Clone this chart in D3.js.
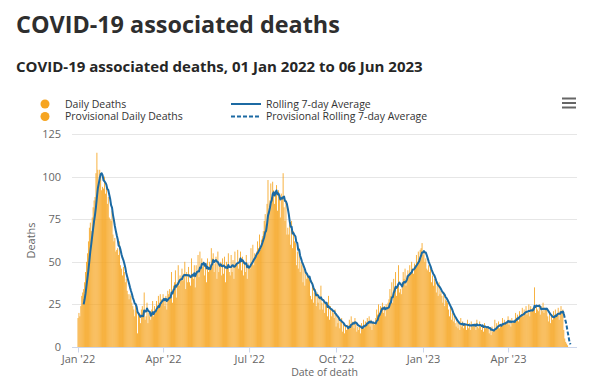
<!DOCTYPE html>
<html>
<head>
<meta charset="utf-8">
<script src="https://cdn.jsdelivr.net/npm/d3@7"></script>
<style>
  html, body { margin: 0; padding: 0; background: #ffffff; }
  svg { display: block; font-family: "Open Sans", "Noto Sans", sans-serif; }
</style>
</head>
<body>
<svg id="chart" width="600" height="378"></svg>
<script>
// ---------- data ----------
const titleText = "COVID-19 associated deaths";
const subtitleText = "COVID-19 associated deaths, 01 Jan 2022 to 06 Jun 2023";
const startDate = "2022-01-01";           // first day of the daily series
// confirmed daily deaths, one value per day from 01 Jan 2022 to 30 May 2023
const dailyDeaths = [
  17,20,18,24,30,32,34, 38,44,50,55,62,70,73, 68,76,82,86,88,102,114, 104,96,104,102,92,94,93,
  100,90,96,84,88,76,75, 74,80,66,62,64,56,57, 58,54,62,48,46,42,47, 44,38,40,33,31,28,31,
  30,26,24,22,18,25,21, 8,20,18,14,22,24,20, 32,16,18,26,14,20,18, 16,22,27,18,24,20,27,
  22,30,24,31,28,26,31, 28,24,30,22,33,31,34, 30,44,26,36,38,45,29, 38,48,36,42,40,46,39,
  43,50,34,44,38,47,38, 36,52,42,40,48,35,48, 44,54,41,56,46,52,47, 50,42,48,38,52,44,50,
  46,58,52,55,44,49,53, 40,56,44,48,50,42,52, 43,53,38,50,46,55,44, 42,54,44,51,40,56,49,
  48,57,46,52,56,45,53, 42,50,44,54,40,49,47, 46,58,50,60,48,55,54, 56,62,58,66,57,63,65,
  68,74,78,72,84,98,79, 86,96,88,97,92,84,91, 95,80,92,88,76,90,88, 102,82,74,86,66,70,66,
  72,60,74,58,68,62,61, 48,56,46,58,44,50,48, 38,46,36,44,40,42,41, 40,30,28,38,26,32,34,
  24,32,26,30,22,36,26, 22,28,20,26,24,18,30, 16,24,18,22,20,17,22, 12,18,14,17,11,16,17,
  9,14,8,12,10,13,11, 16,12,18,13,15,11,17, 14,9,12,10,13,8,14, 12,16,11,15,13,17,14,
  18,12,16,10,14,15,13, 17,22,19,25,20,24,23, 26,20,24,18,25,22,26, 28,34,30,38,26,40,35,
  44,30,36,48,32,34,31, 38,44,40,46,36,42,45, 42,48,44,50,46,43,49, 48,54,50,56,52,57,58,
  61,54,56,50,52,46,45, 48,44,46,38,42,36,40, 38,32,36,30,38,31,33, 30,26,32,24,28,27,26,
  22,18,24,16,20,15,18, 14,12,16,11,15,10,17, 12,15,11,14,13,10,16, 11,14,10,15,12,13,13,
  14,10,16,12,11,15,12, 10,13,9,14,11,12,12, 11,8,10,7,12,9,10, 16,10,14,12,15,11,13,
  12,17,13,16,14,15,14, 18,13,16,12,17,14,15, 16,20,17,19,15,21,18, 19,23,18,22,20,24,19,
  20,25,18,24,21,23,23, 35,20,24,22,21,25,19, 24,21,26,20,23,22,22, 18,15,20,14,19,16,21,
  17,22,18,20,23,16,21, 24,20,22
];
// provisional daily deaths, 31 May 2023 to 06 Jun 2023
const provisionalDeaths = [10,5,3,2,1,0,0,0];
const yTicks = [0, 25, 50, 75, 100, 125];
const xTickDates = ["2022-01-01","2022-04-01","2022-07-01","2022-10-01","2023-01-01","2023-04-01"];
const xTickLabels = ["Jan '22","Apr '22","Jul '22","Oct '22","Jan '23","Apr '23"];
const legendItems = ["Daily Deaths","Provisional Daily Deaths","Rolling 7-day Average","Provisional Rolling 7-day Average"];
const rollingWindow = 7;

// ---------- styles ----------
const barColor = "#f6a521";
const lineColor = "#1c6aa3";
const gridColor = "#e6e6e6";
const axisColor = "#ccd6eb";
const labelColor = "#666666";

// ---------- build series ----------
const parse = d3.utcParse("%Y-%m-%d");
const t0 = parse(startDate);
const allValues = dailyDeaths.concat(provisionalDeaths);
const series = allValues.map((v, i) => ({
  date: d3.utcDay.offset(t0, i),
  value: v,
  provisional: i >= dailyDeaths.length
}));
const rolling = [];
for (let i = rollingWindow - 1; i < series.length; i++) {
  const m = d3.mean(series.slice(i - rollingWindow + 1, i + 1), d => d.value);
  rolling.push({ date: series[i].date, value: m, idx: i });
}
const firstProvIdx = dailyDeaths.length;
const solidPts = rolling.filter(d => d.idx <= firstProvIdx);
const dashPts = rolling.filter(d => d.idx >= firstProvIdx);

// ---------- layout ----------
const svg = d3.select("#chart");
const W = 600, H = 378;
svg.append("rect").attr("width", W).attr("height", H).attr("fill", "#fff");

const plot = { left: 72, right: 577, top: 134, bottom: 347 };

const x = d3.scaleUtc()
  .domain([parse("2022-01-01"), parse("2023-01-01")])
  .range([78, 423]);
x.domain([x.invert(plot.left), x.invert(plot.right)]).range([plot.left, plot.right]);

const y = d3.scaleLinear().domain([0, 125]).range([plot.bottom, plot.top]);

// titles
function fitText(sel, target) {
  const w = sel.node().getComputedTextLength();
  const fs = parseFloat(sel.attr("font-size"));
  sel.attr("font-size", (fs * target / w).toFixed(2));
}
const title = svg.append("text").attr("x", 16).attr("y", 33)
  .attr("font-size", 25).attr("font-weight", 700).attr("fill", "#2e2e2e").text(titleText);
fitText(title, 324);
const sub = svg.append("text").attr("x", 16).attr("y", 72)
  .attr("font-size", 15).attr("font-weight", 700).attr("fill", "#262626").text(subtitleText);
fitText(sub, 407);

// gridlines
const grid = svg.append("g");
grid.selectAll("line").data(yTicks).join("line")
  .attr("x1", plot.left).attr("x2", plot.right)
  .attr("y1", d => Math.round(y(d)) + 0.5).attr("y2", d => Math.round(y(d)) + 0.5)
  .attr("stroke", gridColor).attr("stroke-width", 1);

// y axis labels
const yAxis = d3.axisLeft(y).tickValues(yTicks).tickSize(0).tickPadding(0);
const gy = svg.append("g").attr("transform", `translate(${plot.left - 11},0)`).call(yAxis);
gy.select(".domain").remove();
gy.selectAll("text").attr("font-size", 11).attr("fill", labelColor)
  .attr("font-family", "'Open Sans', sans-serif");

svg.append("text")
  .attr("transform", `translate(35,${(plot.top + plot.bottom) / 2}) rotate(-90)`)
  .attr("text-anchor", "middle").attr("font-size", 11).attr("fill", labelColor)
  .text("Deaths");

// bars
const dayPx = x(d3.utcDay.offset(t0, 1)) - x(t0);
const barW = dayPx * 0.9;
svg.append("g").selectAll("rect").data(series).join("rect")
  .attr("x", d => x(d.date) - barW / 2)
  .attr("y", d => y(d.value))
  .attr("width", barW)
  .attr("height", d => y(0) - y(d.value))
  .attr("fill", barColor);

// x axis
const tickDates = xTickDates.map(parse);
const xAxis = d3.axisBottom(x).tickValues(tickDates)
  .tickFormat((d, i) => xTickLabels[i]).tickSize(5).tickPadding(3);
const gx = svg.append("g").attr("transform", `translate(0,${plot.bottom + 0.5})`).call(xAxis);
gx.select(".domain").attr("stroke", axisColor).attr("d", `M${plot.left},0H${plot.right}`);
gx.selectAll(".tick line").attr("stroke", axisColor);
gx.selectAll("text").attr("font-size", 11).attr("fill", labelColor)
  .attr("font-family", "'Open Sans', sans-serif");

svg.append("text").attr("x", (plot.left + plot.right) / 2).attr("y", 375.5)
  .attr("text-anchor", "middle").attr("font-size", 10.5).attr("fill", labelColor)
  .text("Date of death");

// rolling average lines
const line = d3.line().x(d => x(d.date)).y(d => y(d.value));
svg.append("path").datum(solidPts).attr("d", line)
  .attr("fill", "none").attr("stroke", lineColor).attr("stroke-width", 2)
  .attr("stroke-linejoin", "round");
svg.append("path").datum(dashPts).attr("d", line)
  .attr("fill", "none").attr("stroke", lineColor).attr("stroke-width", 2)
  .attr("stroke-dasharray", "4,2");

// legend
const lg = svg.append("g").attr("font-size", 10.5).attr("fill", "#333");
[0, 1].forEach(i => {
  const cy = 104 + i * 12.5;
  lg.append("circle").attr("cx", 45).attr("cy", cy).attr("r", 4.5).attr("fill", barColor);
  lg.append("text").attr("x", 65).attr("y", cy + 3.5).attr("fill", "#333").text(legendItems[i]);
});
[2, 3].forEach((k, i) => {
  const cy = 104 + i * 12.5;
  lg.append("line").attr("x1", 231).attr("x2", 261).attr("y1", cy).attr("y2", cy)
    .attr("stroke", lineColor).attr("stroke-width", 2)
    .attr("stroke-dasharray", i === 1 ? "4,2" : null);
  lg.append("text").attr("x", 266).attr("y", cy + 3.5).attr("fill", "#333").text(legendItems[k]);
});

// menu icon
[0, 1, 2].forEach(i => {
  svg.append("line").attr("x1", 562).attr("x2", 576)
    .attr("y1", 98.5 + i * 4.5).attr("y2", 98.5 + i * 4.5)
    .attr("stroke", "#666").attr("stroke-width", 2);
});
</script>
</body>
</html>
